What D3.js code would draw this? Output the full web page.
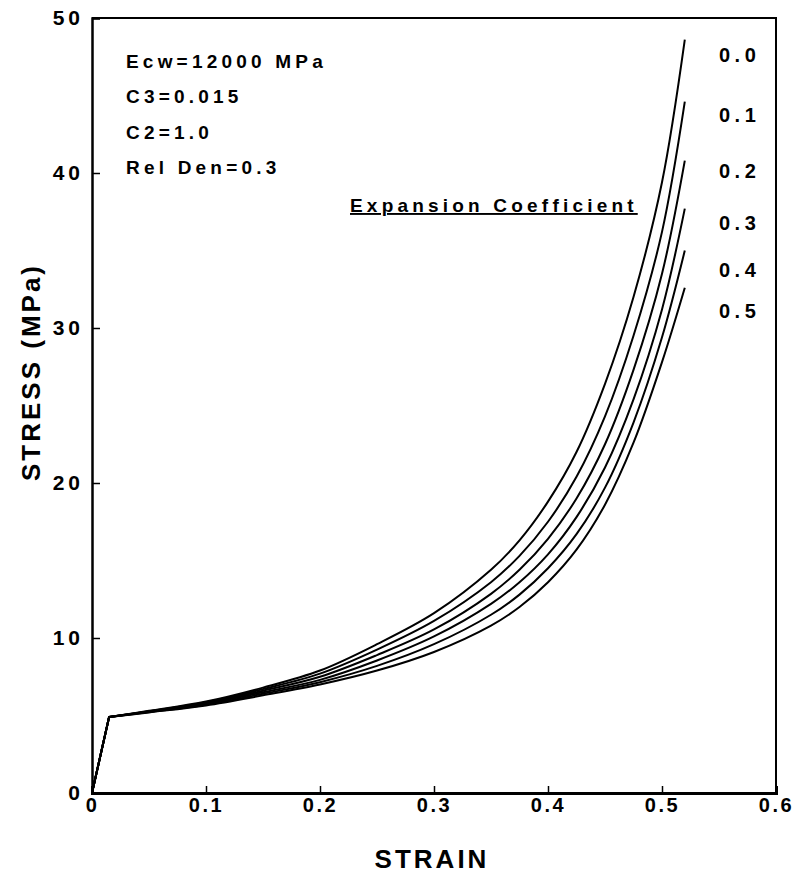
<!DOCTYPE html>
<html>
<head>
<meta charset="utf-8">
<script src="https://cdn.jsdelivr.net/npm/d3@7"></script>
<style>
  body { margin: 0; background: #fff; }
  text { font-family: "Liberation Sans", Arial, sans-serif; fill: #000; }
</style>
</head>
<body>
<div id="vis"></div>
<script>
// stress-strain curves for different expansion coefficients
const strain = [0, 0.015, 0.05, 0.1, 0.15, 0.2, 0.25, 0.3, 0.35, 0.375, 0.4, 0.425, 0.45, 0.475, 0.5, 0.52];

const coefficients = ["0.0", "0.1", "0.2", "0.3", "0.4", "0.5"];

const stress00 = [0, 4.9, 5.3, 5.9, 6.8, 7.9, 9.6, 11.6, 14.4, 16.3, 18.8, 22.0, 26.4, 32.0, 39.4, 48.6];
const stress01 = [0, 4.9, 5.28, 5.85, 6.7, 7.7, 9.25, 11.1, 13.6, 15.3, 17.5, 20.4, 24.3, 29.5, 36.2, 44.6];
const stress02 = [0, 4.9, 5.26, 5.8, 6.6, 7.5, 8.9, 10.55, 12.85, 14.4, 16.4, 19.0, 22.5, 27.3, 33.5, 40.8];
const stress03 = [0, 4.9, 5.24, 5.75, 6.5, 7.3, 8.55, 10.1, 12.2, 13.6, 15.4, 17.8, 21.0, 25.4, 31.2, 37.7];
const stress04 = [0, 4.9, 5.22, 5.7, 6.4, 7.15, 8.2, 9.6, 11.5, 12.8, 14.5, 16.7, 19.7, 23.9, 29.4, 35.0];
const stress05 = [0, 4.9, 5.2, 5.65, 6.3, 7.0, 7.9, 9.1, 10.8, 12.0, 13.6, 15.7, 18.6, 22.6, 27.8, 32.6];

const xTicks = [0, 0.1, 0.2, 0.3, 0.4, 0.5, 0.6];
const xTickLabels = ["0", "0.1", "0.2", "0.3", "0.4", "0.5", "0.6"];
const yTicks = [0, 10, 20, 30, 40, 50];
const yTickLabels = ["0", "10", "20", "30", "40", "50"];

const notes = ["Ecw=12000 MPa", "C3=0.015", "C2=1.0", "Rel Den=0.3"];

const WIDTH = 799;
const HEIGHT = 881;
const MARGINS = {left: 92, right: 23, top: 18, bottom: 88};

const svg = d3.select("#vis")
  .append("svg")
    .attr("width", WIDTH)
    .attr("height", HEIGHT);

const x = d3.scaleLinear()
  .domain([0, 0.6])
  .range([MARGINS.left, WIDTH - MARGINS.right]);

const y = d3.scaleLinear()
  .domain([0, 50])
  .range([HEIGHT - MARGINS.bottom, MARGINS.top]);

// frame: top and right border
svg.append("path")
  .attr("d", `M${x(0)},${y(50)}H${x(0.6)}V${y(0)}`)
  .attr("fill", "none")
  .attr("stroke", "#000")
  .attr("stroke-width", 2);

// x axis
const xAxis = svg.append("g")
  .attr("transform", `translate(0, ${y(0)})`)
  .call(d3.axisBottom(x)
    .tickValues(xTicks)
    .tickSize(-7)
    .tickPadding(5)
    .tickFormat((d, i) => xTickLabels[i]));

xAxis.select(".domain").attr("stroke-width", 3);
xAxis.selectAll(".tick line").attr("stroke-width", 1.5);
xAxis.selectAll(".tick text")
  .attr("font-size", 20)
  .attr("font-weight", "bold")
  .attr("letter-spacing", 2.5)
  .attr("font-family", "Liberation Sans, Arial, sans-serif");

// y axis
const yAxis = svg.append("g")
  .attr("transform", `translate(${x(0)}, 0)`)
  .call(d3.axisLeft(y)
    .tickValues(yTicks)
    .tickSize(-8)
    .tickPadding(8)
    .tickFormat((d, i) => yTickLabels[i]));

yAxis.select(".domain").attr("stroke-width", 2.5);
yAxis.selectAll(".tick line").attr("stroke-width", 1.5);
yAxis.selectAll(".tick text")
  .attr("font-size", 21)
  .attr("font-weight", "bold")
  .attr("letter-spacing", 4)
  .attr("font-family", "Liberation Sans, Arial, sans-serif");

// curves: straight elastic part, then a smooth curve from the yield point
const series = [stress00, stress01, stress02, stress03, stress04, stress05];

const smooth = d3.line()
  .x(d => x(d[0]))
  .y(d => y(d[1]))
  .curve(d3.curveCatmullRom.alpha(0.5));

function curvePath(values) {
  const pts = values.map((v, i) => [strain[i], v]);
  const rest = smooth(pts.slice(1));
  return `M${x(pts[0][0])},${y(pts[0][1])}L` + rest.slice(1);
}

svg.selectAll(".curve")
  .data(series)
  .enter()
  .append("path")
  .attr("class", "curve")
  .attr("d", d => curvePath(d))
  .attr("fill", "none")
  .attr("stroke", "#000")
  .attr("stroke-width", 2)
  .attr("stroke-linejoin", "round");

// series labels at right
const labelY = [62, 122, 178, 230, 277, 318];
svg.selectAll(".slabel")
  .data(coefficients)
  .enter()
  .append("text")
  .attr("class", "slabel")
  .attr("x", 719)
  .attr("y", (d, i) => labelY[i])
  .attr("font-size", 20)
  .attr("font-weight", "bold")
  .attr("letter-spacing", 4.5)
  .text(d => d);

// parameter notes
svg.selectAll(".note")
  .data(notes)
  .enter()
  .append("text")
  .attr("class", "note")
  .attr("x", 126)
  .attr("y", (d, i) => 68 + i * 35.3)
  .attr("font-size", 19)
  .attr("font-weight", "bold")
  .attr("letter-spacing", 4.2)
  .text(d => d);

svg.append("text")
  .attr("x", 350)
  .attr("y", 212)
  .attr("font-size", 19)
  .attr("font-weight", "bold")
  .attr("letter-spacing", 4.2)
  .attr("text-decoration", "underline")
  .text("Expansion Coefficient");

// axis titles
svg.append("text")
  .attr("x", 432)
  .attr("y", 868)
  .attr("text-anchor", "middle")
  .attr("font-size", 26)
  .attr("font-weight", "bold")
  .attr("letter-spacing", 3)
  .text("STRAIN");

svg.append("text")
  .attr("transform", "translate(40, 372) rotate(-90)")
  .attr("text-anchor", "middle")
  .attr("font-size", 26)
  .attr("font-weight", "bold")
  .attr("letter-spacing", 3)
  .text("STRESS (MPa)");
</script>
</body>
</html>
